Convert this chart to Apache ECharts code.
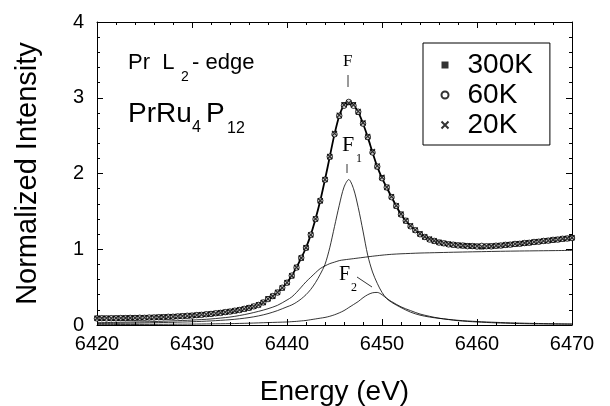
<!DOCTYPE html>
<html>
<head>
<meta charset="utf-8">
<script src="https://cdn.jsdelivr.net/npm/echarts@6/dist/echarts.min.js"></script>
<style>
  html, body { margin: 0; padding: 0; background: #fff; }
  #chart { width: 610px; height: 406px; }
</style>
</head>
<body>
<div id="chart"></div>
<script>
// measured points, 0.5 eV apart
const dataE = [
  6420, 6420.5, 6421, 6421.5, 6422, 6422.5, 6423, 6423.5, 6424, 6424.5,
  6425, 6425.5, 6426, 6426.5, 6427, 6427.5, 6428, 6428.5, 6429, 6429.5,
  6430, 6430.5, 6431, 6431.5, 6432, 6432.5, 6433, 6433.5, 6434, 6434.5,
  6435, 6435.5, 6436, 6436.5, 6437, 6437.5, 6438, 6438.5, 6439, 6439.5,
  6440, 6440.5, 6441, 6441.5, 6442, 6442.5, 6443, 6443.5, 6444, 6444.5,
  6445, 6445.5, 6446, 6446.5, 6447, 6447.5, 6448, 6448.5, 6449, 6449.5,
  6450, 6450.5, 6451, 6451.5, 6452, 6452.5, 6453, 6453.5, 6454, 6454.5,
  6455, 6455.5, 6456, 6456.5, 6457, 6457.5, 6458, 6458.5, 6459, 6459.5,
  6460, 6460.5, 6461, 6461.5, 6462, 6462.5, 6463, 6463.5, 6464, 6464.5,
  6465, 6465.5, 6466, 6466.5, 6467, 6467.5, 6468, 6468.5, 6469, 6469.5,
  6470
];
const t300 = [
  0.090, 0.086, 0.089, 0.088, 0.091, 0.089, 0.093, 0.092, 0.095, 0.094,
  0.097, 0.097, 0.101, 0.101, 0.105, 0.106, 0.111, 0.112, 0.118, 0.120,
  0.126, 0.129, 0.136, 0.140, 0.148, 0.153, 0.162, 0.168, 0.179, 0.187,
  0.200, 0.211, 0.228, 0.244, 0.267, 0.296, 0.348, 0.378, 0.432, 0.488,
  0.562, 0.648, 0.762, 0.883, 1.022, 1.188, 1.402, 1.638, 1.922, 2.218,
  2.522, 2.758, 2.910, 2.935, 2.910, 2.805, 2.662, 2.478, 2.282, 2.088,
  1.942, 1.813, 1.692, 1.568, 1.462, 1.373, 1.307, 1.248, 1.202, 1.158,
  1.132, 1.106, 1.092, 1.075, 1.068, 1.056, 1.054, 1.045, 1.045, 1.038,
  1.040, 1.030, 1.036, 1.044, 1.043, 1.052, 1.054, 1.064, 1.066, 1.076,
  1.078, 1.089, 1.092, 1.103, 1.106, 1.117, 1.120, 1.131, 1.134, 1.145,
  1.152
];
const t60 = [
  0.086, 0.090, 0.087, 0.090, 0.089, 0.092, 0.091, 0.094, 0.093, 0.096,
  0.095, 0.099, 0.099, 0.103, 0.103, 0.108, 0.109, 0.114, 0.116, 0.122,
  0.124, 0.131, 0.134, 0.142, 0.146, 0.155, 0.160, 0.170, 0.177, 0.189,
  0.198, 0.213, 0.226, 0.246, 0.265, 0.298, 0.342, 0.382, 0.428, 0.492,
  0.558, 0.652, 0.758, 0.887, 1.018, 1.192, 1.398, 1.642, 1.918, 2.222,
  2.518, 2.762, 2.895, 2.945, 2.895, 2.815, 2.658, 2.482, 2.278, 2.092,
  1.938, 1.817, 1.688, 1.572, 1.458, 1.377, 1.303, 1.252, 1.198, 1.162,
  1.128, 1.110, 1.088, 1.079, 1.064, 1.060, 1.050, 1.049, 1.041, 1.042,
  1.036, 1.044, 1.040, 1.038, 1.047, 1.048, 1.058, 1.060, 1.070, 1.072,
  1.082, 1.085, 1.096, 1.099, 1.110, 1.113, 1.124, 1.127, 1.138, 1.141,
  1.148
];
const t20 = [
  0.089, 0.089, 0.090, 0.087, 0.090, 0.090, 0.093, 0.093, 0.094, 0.095,
  0.097, 0.098, 0.100, 0.102, 0.105, 0.107, 0.110, 0.113, 0.118, 0.121,
  0.125, 0.130, 0.136, 0.141, 0.147, 0.154, 0.162, 0.169, 0.178, 0.188,
  0.199, 0.212, 0.228, 0.245, 0.266, 0.297, 0.345, 0.380, 0.430, 0.490,
  0.560, 0.650, 0.760, 0.885, 1.020, 1.190, 1.400, 1.640, 1.920, 2.225,
  2.530, 2.770, 2.905, 2.930, 2.905, 2.820, 2.670, 2.490, 2.290, 2.100,
  1.950, 1.820, 1.695, 1.575, 1.465, 1.380, 1.310, 1.255, 1.205, 1.165,
  1.135, 1.112, 1.093, 1.080, 1.069, 1.061, 1.055, 1.050, 1.046, 1.043,
  1.041, 1.035, 1.042, 1.039, 1.048, 1.047, 1.059, 1.061, 1.071, 1.073,
  1.083, 1.086, 1.097, 1.100, 1.111, 1.114, 1.125, 1.128, 1.139, 1.142,
  1.152
];

// fit curves
const compE = [
  6420, 6422, 6424, 6426, 6428, 6430, 6432,
  6434, 6435, 6436, 6437, 6438, 6439, 6440,
  6440.5, 6441, 6441.5, 6442, 6442.5, 6443, 6443.5, 6444, 6444.5, 6445, 6445.5,
  6446, 6446.5, 6447, 6447.5, 6448, 6448.5, 6449, 6449.5, 6450, 6450.5, 6451,
  6452, 6453, 6454, 6455, 6456,
  6458, 6460, 6462, 6464, 6466, 6468, 6470
];
const fitTotal = [
  0.088, 0.090, 0.094, 0.100, 0.110, 0.125, 0.147,
  0.178, 0.199, 0.227, 0.266, 0.345, 0.430, 0.560,
  0.650, 0.760, 0.885, 1.020, 1.190, 1.400, 1.640, 1.920, 2.220, 2.520, 2.760,
  2.900, 2.940, 2.900, 2.810, 2.660, 2.480, 2.280, 2.090, 1.940, 1.815, 1.690,
  1.460, 1.305, 1.200, 1.130, 1.090,
  1.052, 1.038, 1.045, 1.068, 1.094, 1.122, 1.150
];
const stepEdge = [
  0.030, 0.035, 0.040, 0.045, 0.055, 0.065, 0.080,
  0.105, 0.125, 0.150, 0.180, 0.215, 0.260, 0.330,
  0.370, 0.430, 0.500, 0.570, 0.630, 0.690, 0.745, 0.780, 0.810, 0.830, 0.850,
  0.860, 0.868, 0.876, 0.884, 0.892, 0.900, 0.908, 0.915, 0.922, 0.928, 0.933,
  0.940, 0.945, 0.950, 0.953, 0.956,
  0.962, 0.967, 0.972, 0.976, 0.979, 0.982, 0.985
];
const peakF1 = [
  0.020, 0.022, 0.025, 0.030, 0.036, 0.043, 0.054,
  0.070, 0.082, 0.098, 0.120, 0.150, 0.190, 0.240,
  0.265, 0.300, 0.345, 0.400, 0.470, 0.560, 0.670, 0.800, 1.020, 1.300, 1.580,
  1.820, 1.920, 1.800, 1.550, 1.240, 0.920, 0.700, 0.550, 0.430, 0.350, 0.300,
  0.230, 0.170, 0.130, 0.105, 0.088,
  0.062, 0.046, 0.035, 0.027, 0.021, 0.017, 0.014
];
const peakF2 = [
  0.005, 0.006, 0.007, 0.008, 0.010, 0.012, 0.015,
  0.018, 0.021, 0.024, 0.028, 0.032, 0.036, 0.040,
  0.044, 0.048, 0.054, 0.060, 0.070, 0.080, 0.090, 0.100, 0.115, 0.135, 0.160,
  0.190, 0.230, 0.270, 0.310, 0.360, 0.400, 0.425, 0.430, 0.400, 0.350, 0.310,
  0.240, 0.190, 0.145, 0.115, 0.090,
  0.057, 0.040, 0.028, 0.020, 0.015, 0.012, 0.010
];

const xTicks = { min: 6420, max: 6470, interval: 10 };
const yTicks = { min: 0, max: 4, interval: 1 };

const zip = (xs, ys) => xs.map((x, i) => [x, ys[i]]);
const sans = "Liberation Sans";
const serif = "Liberation Serif";

let chart = echarts.init(document.getElementById("chart"));

function axisParts(labels, margin) {
  return {
    axisLine: { show: true, onZero: false, lineStyle: { color: "#000", width: 1 } },
    axisTick: { show: true, inside: true, length: 6, lineStyle: { color: "#000", width: 1 } },
    minorTick: { show: true, splitNumber: 5, length: 3, lineStyle: { color: "#000", width: 1 } },
    axisLabel: {
      show: labels,
      fontSize: 20,
      fontFamily: sans,
      color: "#000",
      margin: margin,
      formatter: (v) => String(v),
    },
    splitLine: { show: false },
  };
}

function curve(name, ys, width) {
  return {
    name: name,
    type: "line",
    data: zip(compE, ys),
    smooth: 0.3,
    showSymbol: false,
    silent: true,
    lineStyle: { color: "#000", width: width },
    z: 1,
  };
}

let option = {
  animation: false,
  backgroundColor: "#fff",
  grid: { left: 97, right: 38, top: 22, bottom: 81, outerBoundsMode: "none" },
  xAxis: [
    {
      type: "value",
      position: "bottom",
      ...xTicks,
      name: "Energy (eV)",
      nameLocation: "middle",
      nameGap: 53,
      nameTextStyle: { fontSize: 28, fontFamily: sans, color: "#000" },
      ...axisParts(true, 9),
    },
    { type: "value", position: "top", ...xTicks, ...axisParts(false, 9) },
  ],
  yAxis: [
    {
      type: "value",
      position: "left",
      ...yTicks,
      name: "Normalized Intensity",
      nameLocation: "middle",
      nameGap: 55,
      nameTextStyle: { fontSize: 29, fontFamily: sans, color: "#000" },
      ...axisParts(true, 13),
    },
    { type: "value", position: "right", ...yTicks, ...axisParts(false, 13) },
  ],
  legend: {
    orient: "vertical",
    left: 423,
    top: 43,
    data: ["300K", "60K", "20K"],
    borderColor: "#000",
    borderWidth: 1,
    borderRadius: 0,
    padding: [8, 17, 6, 16],
    itemGap: 2,
    itemWidth: 7,
    itemHeight: 7,
    textStyle: { fontSize: 28, lineHeight: 28, fontFamily: sans, color: "#000", padding: [0, 0, 0, 14] },
  },
  series: [
    curve("step", stepEdge, 0.8),
    curve("F1", peakF1, 0.8),
    curve("F2", peakF2, 0.8),
    curve("fit", fitTotal, 1.8),
    {
      name: "300K",
      type: "scatter",
      data: zip(dataE, t300),
      symbol: "rect",
      symbolSize: 5,
      itemStyle: { color: "#000" },
      z: 3,
    },
    {
      name: "60K",
      type: "scatter",
      data: zip(dataE, t60),
      symbol: "circle",
      symbolSize: 5.5,
      itemStyle: { color: "#fff", borderColor: "#000", borderWidth: 1 },
      z: 4,
    },
    {
      name: "20K",
      type: "scatter",
      data: zip(dataE, t20),
      symbol: "path://M0,0L10,10M10,0L0,10",
      symbolSize: 5,
      itemStyle: { color: "none", borderColor: "#000", borderWidth: 1.2 },
      z: 5,
    },
  ],
  graphic: [
    { type: "text", style: { x: 128, y: 63, text: "Pr  L", font: "22px " + sans, fill: "#000", verticalAlign: "middle" } },
    { type: "text", style: { x: 181, y: 77, text: "2", font: "14px " + sans, fill: "#000", verticalAlign: "middle" } },
    { type: "text", style: { x: 192, y: 63, text: "- edge", font: "22px " + sans, fill: "#000", verticalAlign: "middle" } },
    { type: "text", style: { x: 128, y: 114, text: "PrRu", font: "28px " + sans, fill: "#000", verticalAlign: "middle" } },
    { type: "text", style: { x: 192, y: 128, text: "4", font: "16px " + sans, fill: "#000", verticalAlign: "middle" } },
    { type: "text", style: { x: 206, y: 114, text: "P", font: "28px " + sans, fill: "#000", verticalAlign: "middle" } },
    { type: "text", style: { x: 227, y: 129, text: "12", font: "16px " + sans, fill: "#000", verticalAlign: "middle" } },

    { type: "text", style: { x: 343, y: 62, text: "F", font: "17px " + serif, fill: "#000", verticalAlign: "middle" } },
    { type: "line", shape: { x1: 348, y1: 75, x2: 348, y2: 87 }, style: { stroke: "#000", lineWidth: 0.8 } },
    { type: "text", style: { x: 342, y: 145, text: "F", font: "22px " + serif, fill: "#000", verticalAlign: "middle" } },
    { type: "text", style: { x: 356, y: 159, text: "1", font: "12px " + serif, fill: "#000", verticalAlign: "middle" } },
    { type: "line", shape: { x1: 347, y1: 164, x2: 347, y2: 173 }, style: { stroke: "#000", lineWidth: 0.8 } },
    { type: "text", style: { x: 339, y: 275, text: "F", font: "20px " + serif, fill: "#000", verticalAlign: "middle" } },
    { type: "text", style: { x: 351, y: 288, text: "2", font: "12px " + serif, fill: "#000", verticalAlign: "middle" } },
    { type: "line", shape: { x1: 357, y1: 277, x2: 372, y2: 287 }, style: { stroke: "#000", lineWidth: 0.8 } },
  ],
};

chart.setOption(option);
</script>
</body>
</html>
